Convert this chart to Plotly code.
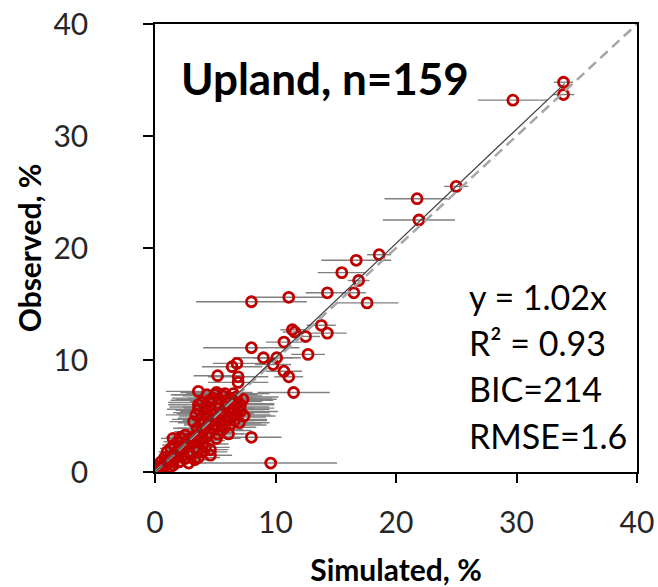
import plotly.graph_objects as go

# ---- data (Simulated %, Observed %, horizontal error on Simulated) ----
sim = [33.9, 33.9, 29.7, 25.0, 21.75, 21.9, 18.6, 16.7, 15.5, 16.9,
       14.3, 16.5, 17.6, 11.1, 8.0, 13.8, 11.4, 11.6, 12.5, 14.3,
       10.7, 8.0, 12.7, 9.0, 10.1, 9.8, 6.8, 6.4, 10.7, 11.1,
       11.5, 5.2, 6.9, 6.9, 3.6, 5.1, 3.6, 6.75, 6.9, 6.25,
       6.1, 8.0, 5.1, 9.6, 4.6, 4.6, 3.3, 1.5, 2.1, 2.75,
       # upper cluster
       3.9, 4.2, 4.5, 4.8, 5.0, 5.3, 5.6, 5.9, 6.2, 6.5,
       6.8, 7.1, 4.1, 4.4, 4.7, 5.0, 5.3, 5.6, 5.9, 6.2,
       6.5, 6.8, 7.1, 7.4, 3.8, 4.1, 4.4, 4.7, 5.0, 5.3,
       5.6, 5.9, 6.2, 6.6, 7.0, 3.5, 3.8, 4.2, 4.5, 4.9,
       5.2, 5.5, 5.8, 3.2, 3.4, 3.6, 4.3, 5.8, 6.5, 7.3,
       # lower cluster
       0.1, 0.2, 0.3, 0.4, 0.5, 0.6, 0.7, 0.8, 0.9, 1.0,
       1.1, 1.2, 1.3, 1.4, 1.5, 1.6, 1.7, 1.8, 1.9, 2.0,
       2.1, 2.2, 2.3, 2.4, 2.5, 2.6, 2.7, 2.8, 2.9, 3.0,
       3.1, 3.2, 3.3, 3.4, 3.6, 3.8, 4.0, 4.2, 1.0, 1.3,
       1.6, 1.9, 2.2, 2.5, 1.5, 2.0, 2.5, 3.0, 3.5, 4.0,
       2.8, 3.6, 0.5, 0.8, 1.2, 0.3, 2.3, 3.9, 4.3]

obs = [34.8, 33.7, 33.2, 25.5, 24.4, 22.5, 19.4, 18.9, 17.8, 17.1,
       16.0, 16.0, 15.1, 15.6, 15.2, 13.1, 12.7, 12.5, 12.1, 12.4,
       11.6, 11.1, 10.5, 10.2, 10.2, 9.6, 9.7, 9.4, 9.0, 8.5,
       7.1, 8.6, 8.5, 8.0, 7.2, 7.1, 6.0, 6.7, 5.7, 4.2,
       3.4, 3.1, 3.0, 0.8, 2.0, 1.5, 1.1, 3.0, 3.1, 2.9,
       # upper cluster
       6.2, 5.8, 6.4, 6.6, 6.9, 6.5, 6.8, 6.3, 6.6, 6.1,
       6.4, 6.0, 5.3, 5.0, 5.5, 5.2, 5.7, 5.4, 5.8, 5.3,
       5.6, 5.1, 5.4, 5.0, 4.7, 4.4, 4.8, 4.5, 4.2, 4.6,
       4.3, 4.7, 4.9, 4.6, 4.4, 3.9, 3.6, 3.9, 3.5, 3.8,
       3.4, 3.7, 4.0, 4.5, 5.1, 5.6, 6.9, 7.0, 7.0, 6.5,
       # lower cluster
       0.1, 0.2, 0.2, 0.4, 0.3, 0.6, 0.5, 0.8, 0.6, 1.0,
       0.8, 1.2, 0.9, 1.4, 1.1, 1.6, 1.3, 1.8, 1.5, 2.0,
       1.7, 2.2, 1.9, 2.4, 2.1, 2.6, 2.3, 2.8, 2.5, 3.0,
       2.7, 3.2, 2.9, 3.3, 3.0, 2.8, 2.5, 2.2, 1.8, 2.1,
       2.4, 2.7, 3.0, 3.3, 0.6, 0.9, 1.2, 1.5, 1.8, 1.8,
       0.8, 1.3, 0.9, 1.3, 0.4, 0.5, 1.4, 3.2, 3.2]

err = [0.8, 0.9, 2.9, 1.0, 2.7, 3.0, 1.0, 2.9, 2.0, 0.9,
       1.8, 1.0, 2.6, 3.1, 4.6, 1.2, 1.0, 1.0, 1.2, 1.6,
       1.5, 4.0, 1.4, 2.5, 2.0, 1.5, 2.0, 2.5, 1.5, 1.2,
       3.0, 2.0, 2.5, 2.5, 2.7, 3.0, 2.5, 3.5, 3.0, 3.0,
       2.0, 2.5, 2.0, 5.5, 1.5, 1.8, 1.5, 1.0, 1.2, 1.5,
       # upper cluster
       2.8, 3.0, 3.2, 3.4, 3.5, 3.6, 3.3, 3.0, 3.5, 3.4,
       3.0, 2.8, 2.6, 2.4, 3.0, 3.2, 2.9, 3.5, 3.6, 3.3,
       3.0, 2.8, 3.1, 2.6, 2.4, 2.2, 2.5, 2.8, 2.6, 3.0,
       3.2, 3.4, 3.0, 2.7, 2.5, 2.0, 2.2, 2.3, 2.0, 2.4,
       2.2, 2.5, 2.6, 2.0, 2.5, 2.6, 3.0, 3.2, 3.0, 2.8,
       # lower cluster
       0.1, 0.2, 0.2, 0.3, 0.3, 0.4, 0.4, 0.5, 0.5, 0.6,
       0.6, 0.7, 0.8, 0.8, 0.9, 1.0, 1.0, 1.1, 1.2, 1.2,
       1.3, 1.3, 1.4, 1.4, 1.5, 1.5, 1.6, 1.6, 1.7, 1.7,
       1.8, 1.8, 1.9, 1.9, 2.0, 2.0, 2.1, 2.0, 0.7, 0.9,
       1.0, 1.2, 1.3, 1.4, 0.8, 1.0, 1.3, 1.5, 1.7, 2.0,
       1.4, 1.8, 0.3, 0.5, 0.6, 0.2, 1.2, 2.0, 2.2]

slope = 1.02
fit_range = [0, 34]
one_to_one = [0, 40]
tick_vals = [0, 10, 20, 30, 40]
title_text = "Upland, n=159"
stats_lines = ["y = 1.02x", "R² = 0.93", "BIC=214", "RMSE=1.6"]
x_title = "Simulated, %"
y_title = "Observed, %"

FONT = "Lato"
RED = "#C00000"

fig = go.Figure()

fig.add_trace(go.Scatter(
    x=sim, y=obs, mode="markers",
    error_x=dict(type="data", array=err, visible=True, color="#808080",
                 thickness=1.4, width=0),
    marker=dict(symbol="circle-open", size=10, color=RED,
                line=dict(color=RED, width=2.8)),
    hoverinfo="skip", showlegend=False))

fig.add_trace(go.Scatter(
    x=one_to_one, y=one_to_one, mode="lines",
    line=dict(color="#A6A6A6", width=2.5, dash="10px,6px"),
    hoverinfo="skip", showlegend=False))

fig.add_trace(go.Scatter(
    x=fit_range, y=[slope * v for v in fit_range], mode="lines",
    line=dict(color="#404040", width=1.2),
    hoverinfo="skip", showlegend=False))

fig.add_annotation(x=2.0, y=35.2, xref="x", yref="y", text=title_text,
                   showarrow=False, xanchor="left", yanchor="middle",
                   font=dict(family=FONT, size=44, color="black", weight="bold"))

stat_y = [15.7, 11.6, 7.5, 3.3]
for txt, yy in zip(stats_lines, stat_y):
    fig.add_annotation(x=25.9, y=yy, xref="x", yref="y", text=txt,
                       showarrow=False, xanchor="left", yanchor="middle",
                       font=dict(family=FONT, size=34, color="black"))

axis_common = dict(
    range=[0, 40], tickvals=tick_vals, showgrid=False, zeroline=False,
    showline=True, linecolor="black", linewidth=1.5, mirror=True,
    ticks="outside", tickcolor="black", tickwidth=1.5,
    tickfont=dict(family=FONT, size=30, color="#262626"),
)

fig.update_xaxes(**axis_common, ticklen=9, ticklabelstandoff=14,
                 title=dict(text=x_title, standoff=25,
                            font=dict(family=FONT, size=30, color="black", weight="bold")))
fig.update_yaxes(**axis_common, ticklen=10, ticklabelstandoff=49,
                 title=dict(text=y_title, standoff=3,
                            font=dict(family=FONT, size=30, color="black", weight="bold")))

fig.update_layout(
    width=658, height=587,
    margin=dict(l=155, r=21, t=24, b=115, autoexpand=False),
    plot_bgcolor="white", paper_bgcolor="white",
)

fig.write_html("out.html", config={"displayModeBar": False},
               post_script="document.body.style.margin='0';document.body.style.padding='0';")
